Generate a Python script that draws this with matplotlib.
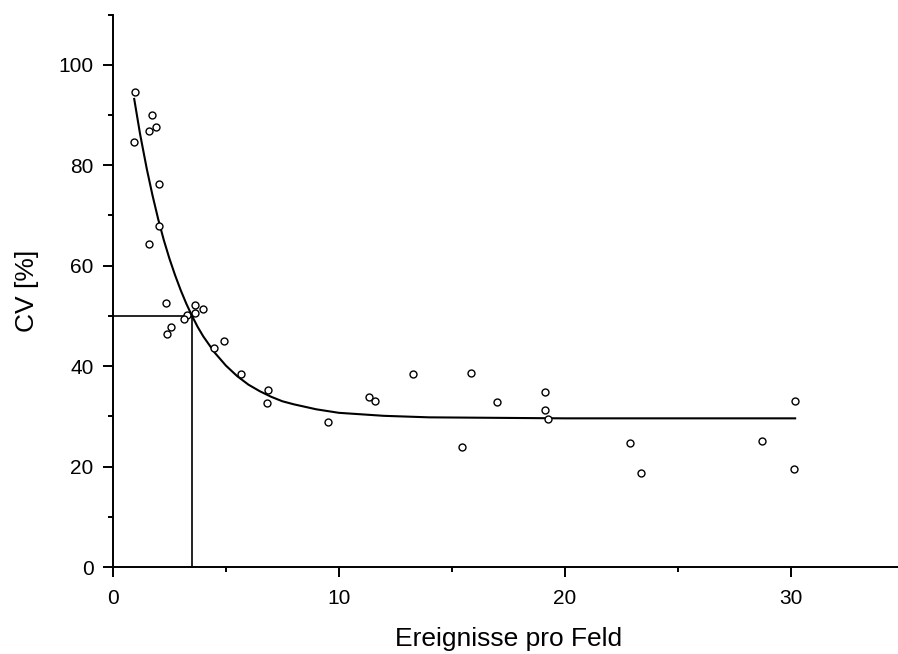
import matplotlib
matplotlib.use("Agg")
import matplotlib.pyplot as plt
from matplotlib.ticker import MultipleLocator

plt.rcParams['font.family'] = ['Liberation Sans', 'DejaVu Sans']

# measured points (Ereignisse pro Feld, CV %)
events = [0.97, 1.73, 1.89, 1.58, 0.93, 2.02, 2.02, 1.61, 2.33, 3.63, 3.98,
          3.63, 3.29, 3.13, 2.57, 2.39, 4.48, 4.91, 5.65, 6.85, 6.83, 9.53,
          11.34, 11.58, 13.27, 15.84, 16.98, 15.43, 19.12, 19.12, 19.28,
          22.88, 23.36, 28.73, 30.18, 30.13]
cv = [94.6, 89.9, 87.7, 86.8, 84.6, 76.2, 67.9, 64.3, 52.5, 52.1, 51.3,
      50.6, 50.2, 49.3, 47.7, 46.4, 43.7, 44.9, 38.4, 35.3, 32.7, 28.8,
      33.9, 33.1, 38.4, 38.6, 32.9, 23.9, 34.9, 31.2, 29.5,
      24.7, 18.8, 25.1, 33.0, 19.6]

# fitted decay curve
fit_x = [0.94, 1.2, 1.5, 1.75, 2.0, 2.25, 2.5, 2.75, 3.0, 3.25, 3.5, 3.75,
         4.0, 4.5, 5.0, 5.5, 6.0, 6.5, 7.0, 7.5, 8.0, 9.0, 10.0, 12.0, 14.0,
         17.0, 20.0, 25.0, 30.2]
fit_y = [93.2, 86.2, 79.2, 74.0, 69.3, 65.1, 61.4, 58.1, 55.1, 52.4, 50.0,
         47.8, 45.9, 42.7, 40.1, 38.0, 36.3, 35.0, 33.9, 33.0, 32.4, 31.4,
         30.7, 30.1, 29.8, 29.7, 29.6, 29.6, 29.6]

# CV = 50 % marker
cut_x = 3.5
cut_y = 50

fig = plt.figure(figsize=(8.98, 6.54), dpi=100)
ax = fig.add_axes([0.1258, 0.1330, 0.8804, 0.8448])

ax.plot(fit_x, fit_y, color='black', lw=1.5, zorder=3)
ax.plot(events, cv, 'o', mfc='white', mec='black', ms=5, mew=1, zorder=4)
ax.plot([0, cut_x], [cut_y, cut_y], color='black', lw=1.2, zorder=2)
ax.plot([cut_x, cut_x], [0, cut_y], color='black', lw=1.2, zorder=2)

ax.set_xlim(0, 35)
ax.set_ylim(0, 110)
ax.xaxis.set_major_locator(MultipleLocator(10))
ax.xaxis.set_minor_locator(MultipleLocator(5))
ax.yaxis.set_major_locator(MultipleLocator(20))
ax.yaxis.set_minor_locator(MultipleLocator(10))

for s in ['top', 'right']:
    ax.spines[s].set_visible(False)
for s in ['left', 'bottom']:
    ax.spines[s].set_linewidth(1.4)

ax.tick_params(which='major', direction='out', length=7.5, width=1.4,
               labelsize=15)
ax.tick_params(which='minor', direction='out', length=3.5, width=1.4)
ax.tick_params(axis='x', which='major', pad=8)
ax.tick_params(axis='y', which='major', pad=6.5)

ax.set_xlabel('Ereignisse pro Feld', fontsize=19, labelpad=14)
ax.set_ylabel('CV [%]', fontsize=19, labelpad=14)

fig.savefig('out.png', dpi=100)
